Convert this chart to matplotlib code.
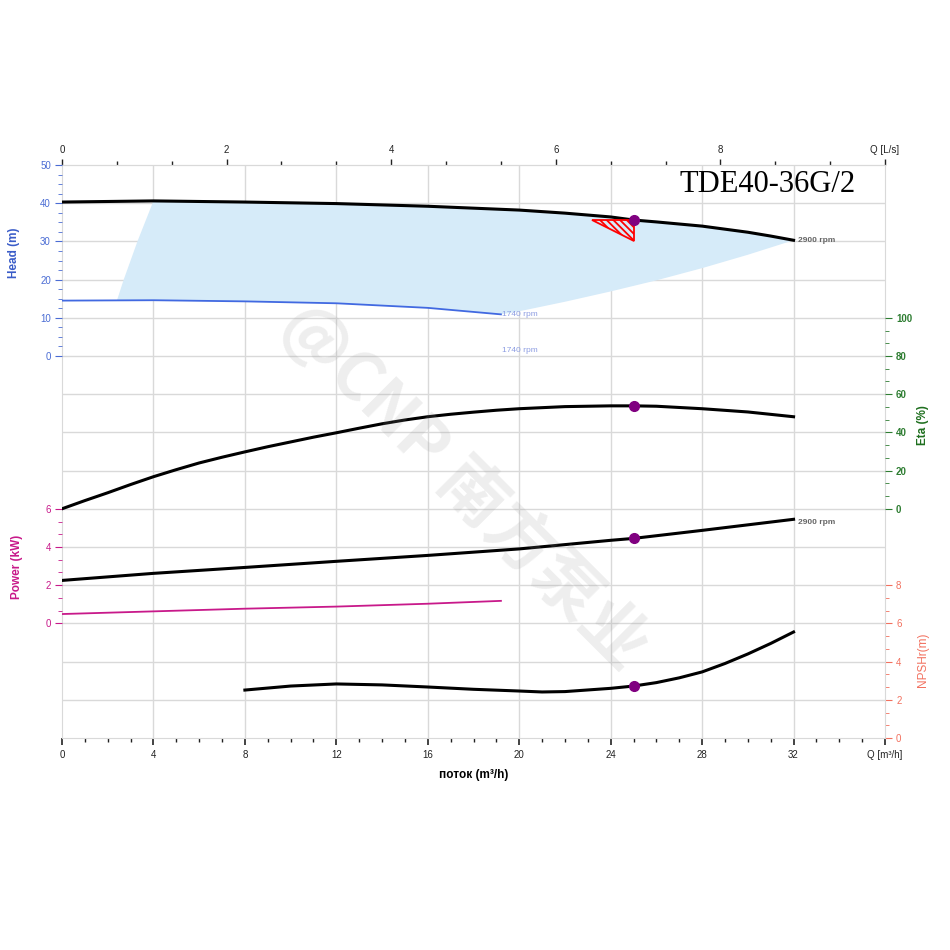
import numpy as np
import matplotlib
matplotlib.use("Agg")
import matplotlib.pyplot as plt
from matplotlib.patches import Polygon

plt.rcParams['font.family'] = ['Liberation Sans', 'DejaVu Sans']
plt.rcParams['hatch.linewidth'] = 1.3
plt.rcParams['hatch.color'] = 'red'

# ------------------------------------------------------------
# Values (Q in m3/h)
# ------------------------------------------------------------
q_head = [0, 4, 8, 12, 16, 20, 22, 24, 25, 26, 28, 29, 30, 31, 32]
head_2900 = [40.3, 40.6, 40.3, 39.9, 39.2, 38.2, 37.4, 36.4, 35.6, 35.1,
             34.0, 33.2, 32.4, 31.4, 30.3]

q_head_1740 = [0, 4, 8, 12, 16, 19.2]
head_1740 = [14.5, 14.6, 14.3, 13.8, 12.6, 10.9]

# borders of the shaded operating range
area_left_q = [2.4, 2.7, 3.3, 4.0]
area_left_h = [14.5, 20.0, 30.0, 40.6]
area_right_q = [32, 30, 28, 26, 24, 22, 20, 19.2]
area_right_h = [30.3, 26.5, 23.0, 19.8, 16.9, 14.2, 11.7, 10.9]

q_eta = [0, 1, 2, 3, 4, 5, 6, 7, 8, 9, 10, 11, 12, 13, 14, 15, 16, 17, 18,
         19, 20, 22, 24, 25, 26, 28, 30, 32]
eta_2900 = [0, 4.3, 8.4, 12.7, 16.8, 20.5, 24.0, 27.0, 29.8, 32.5, 35.0,
            37.5, 39.8, 42.2, 44.5, 46.5, 48.2, 49.5, 50.6, 51.6, 52.4,
            53.5, 53.9, 53.9, 53.7, 52.4, 50.7, 48.2]

q_pow = [0, 4, 8, 12, 16, 20, 24, 25, 28, 32]
power_2900 = [2.25, 2.62, 2.93, 3.25, 3.56, 3.90, 4.35, 4.45, 4.87, 5.45]
q_pow_1740 = [0, 4, 8, 12, 16, 19.2]
power_1740 = [0.49, 0.63, 0.77, 0.88, 1.03, 1.18]

q_npsh = [8, 10, 12, 14, 16, 18, 20, 21, 22, 24, 25, 26, 27, 28, 29, 30, 31, 32]
npsh = [2.51, 2.72, 2.83, 2.78, 2.67, 2.55, 2.46, 2.41, 2.43, 2.60, 2.72,
        2.90, 3.15, 3.46, 3.90, 4.40, 4.95, 5.55]

# duty point
q_duty = 25
head_duty = 35.6
eta_duty = 53.9
power_duty = 4.45
npsh_duty = 2.72

# tolerance triangle at the duty point
tri_q = [23.2, 25.0, 25.0]
tri_h = [35.6, 35.6, 30.1]

q_ticks = [0, 4, 8, 12, 16, 20, 24, 28, 32, 36]
q_ticklabels = ['0', '4', '8', '12', '16', '20', '24', '28', '32', 'Q [m³/h]']
ls_ticks = [0, 2, 4, 6, 8, 10]
ls_ticklabels = ['0', '2', '4', '6', '8', 'Q [L/s]']

HEAD_C = '#4a6cd4'
POW_C = '#c8198a'
ETA_C = '#2e7d32'
NPSH_C = '#f2705e'
GRID_C = '#d9d9d9'
DUTY_C = '#800080'

# ------------------------------------------------------------
# Figure and axes
# ------------------------------------------------------------
fig = plt.figure(figsize=(9.5, 9.5), dpi=100)
ax = fig.add_axes([62 / 950, 1 - 738 / 950, (885 - 62) / 950, (738 - 165) / 950])
ax.set_xlim(0, 36)
ax.set_ylim(0, 30)          # NPSH scale

ax_head = ax.twinx()
ax_head.set_ylim(-100, 50)
ax_pow = ax.twinx()
ax_pow.set_ylim(-6, 24)
ax_eta = ax.twinx()
ax_eta.set_ylim(-120, 180)

for a in (ax_head, ax_pow, ax_eta):
    a.patch.set_visible(False)
    for s in a.spines.values():
        s.set_visible(False)
for s in ax.spines.values():
    s.set_color(GRID_C)

# grid
for q in range(4, 36, 4):
    ax.axvline(q, color=GRID_C, lw=1, zorder=0)
for y in range(2, 30, 2):
    ax.axhline(y, color=GRID_C, lw=1, zorder=0)

# bottom axis
ax.set_xticks(q_ticks, labels=q_ticklabels)
ax.set_xticks(np.arange(0, 37, 1), minor=True)
ax.tick_params(axis='x', which='both', colors='#222222', labelsize=7,
               direction='out')
ax.tick_params(axis='x', which='major', length=5, width=1.2, pad=4)
ax.tick_params(axis='x', which='minor', length=3, width=1)
ax.set_xlabel('поток (m³/h)', fontsize=8.5, fontweight='bold', labelpad=6)

# top axis in L/s
secax = ax.secondary_xaxis('top', functions=(lambda q: q / 3.6, lambda l: l * 3.6))
secax.set_xticks(ls_ticks, labels=ls_ticklabels)
secax.set_xticks(np.arange(0, 10.01, 2 / 3), minor=True)
secax.tick_params(axis='x', which='both', colors='#222222', labelsize=7,
                  direction='out')
secax.tick_params(axis='x', which='major', length=4, width=1, pad=3)
secax.tick_params(axis='x', which='minor', length=3, width=1)
secax.spines['top'].set_color(GRID_C)

# NPSH (right, main axes)
ax.yaxis.set_ticks_position('right')
ax.set_yticks([0, 2, 4, 6, 8])
ax.set_yticks(np.arange(0, 8.01, 2 / 3), minor=True)
ax.tick_params(axis='y', which='both', colors=NPSH_C, labelsize=7, direction='out')
ax.tick_params(axis='y', which='major', length=5, pad=3)
ax.tick_params(axis='y', which='minor', length=3)

# head (left)
ax_head.yaxis.set_ticks_position('left')
ax_head.set_yticks([0, 10, 20, 30, 40, 50])
ax_head.set_yticks(np.arange(0, 50.1, 2.5), minor=True)
ax_head.tick_params(axis='y', which='both', colors=HEAD_C, labelsize=7, direction='out')
ax_head.tick_params(axis='y', which='major', length=5, pad=3)
ax_head.tick_params(axis='y', which='minor', length=3)

# power (left)
ax_pow.yaxis.set_ticks_position('left')
ax_pow.set_yticks([0, 2, 4, 6])
ax_pow.set_yticks(np.arange(0, 6.01, 2 / 3), minor=True)
ax_pow.tick_params(axis='y', which='both', colors=POW_C, labelsize=7, direction='out')
ax_pow.tick_params(axis='y', which='major', length=5, pad=3)
ax_pow.tick_params(axis='y', which='minor', length=3)

# efficiency (right)
ax_eta.yaxis.set_ticks_position('right')
ax_eta.set_yticks([0, 20, 40, 60, 80, 100])
ax_eta.set_yticks(np.arange(0, 100.1, 20 / 3), minor=True)
ax_eta.tick_params(axis='y', which='both', colors=ETA_C, labelsize=7, direction='out')
ax_eta.tick_params(axis='y', which='major', length=5, pad=3)
ax_eta.tick_params(axis='y', which='minor', length=3)
for lab in ax_eta.get_yticklabels():
    lab.set_fontweight('bold')

# ------------------------------------------------------------
# Curves
# ------------------------------------------------------------
top_q = [q for q in q_head if q >= area_left_q[-1]]
top_h = [h for q, h in zip(q_head, head_2900) if q >= area_left_q[-1]]
bot_q = [q for q in q_head_1740 if q > area_left_q[0]][::-1]
bot_h = [h for q, h in zip(q_head_1740, head_1740) if q > area_left_q[0]][::-1]
poly_q = area_left_q + top_q + area_right_q + bot_q
poly_h = area_left_h + top_h + area_right_h + bot_h
ax_head.add_patch(Polygon(list(zip(poly_q, poly_h)), closed=True,
                          facecolor='#d6ebf9', edgecolor='none', zorder=1))

ax_head.plot(q_head, head_2900, color='black', lw=2.2, zorder=3)
ax_head.plot(q_head_1740, head_1740, color='#4169e1', lw=1.3, zorder=3)
ax_head.add_patch(Polygon(list(zip(tri_q, tri_h)), closed=True, facecolor='none',
                          edgecolor='red', lw=1.3, hatch='\\' * 5, zorder=4))
ax_head.plot(q_duty, head_duty, 'o', color=DUTY_C, ms=7, zorder=5)

ax_eta.plot(q_eta, eta_2900, color='black', lw=2.2, zorder=3)
ax_eta.plot(q_duty, eta_duty, 'o', color=DUTY_C, ms=7, zorder=5)

ax_pow.plot(q_pow, power_2900, color='black', lw=2.2, zorder=3)
ax_pow.plot(q_pow_1740, power_1740, color='#c8198a', lw=1.3, zorder=3)
ax_pow.plot(q_duty, power_duty, 'o', color=DUTY_C, ms=7, zorder=5)

ax.plot(q_npsh, npsh, color='black', lw=2.2, zorder=3)
ax.plot(q_duty, npsh_duty, 'o', color=DUTY_C, ms=7, zorder=5)

# speed labels
ax_head.annotate('2900 rpm', (q_head[-1], head_2900[-1]), xytext=(3, 0),
                 textcoords='offset points', fontsize=6, fontweight='bold',
                 color='#666666', va='center')
ax_pow.annotate('2900 rpm', (q_pow[-1], power_2900[-1]), xytext=(3, -2),
                textcoords='offset points', fontsize=6, fontweight='bold',
                color='#666666', va='center')
ax_head.annotate('1740 rpm', (q_head_1740[-1], head_1740[-1]), xytext=(1, 0),
                 textcoords='offset points', fontsize=6, color='#8d9de2',
                 va='center')
ax_head.annotate('1740 rpm', (q_head_1740[-1], 0), xytext=(1, 4),
                 textcoords='offset points', fontsize=6, color='#8d9de2',
                 va='center')

# ------------------------------------------------------------
# Axis titles, model name, watermark
# ------------------------------------------------------------
fig.text(14 / 950, 1 - 253 / 950, 'Head (m)', rotation=90, color='#3a5cc8',
         fontsize=8.5, fontweight='bold', ha='center', va='center')
fig.text(17 / 950, 1 - 567 / 950, 'Power (kW)', rotation=90, color=POW_C,
         fontsize=8.5, fontweight='bold', ha='center', va='center')
fig.text(923 / 950, 1 - 425 / 950, 'Eta (%)', rotation=90, color='#1f6f1f',
         fontsize=8.5, fontweight='bold', ha='center', va='center')
fig.text(923 / 950, 1 - 660 / 950, 'NPSHr(m)', rotation=90, color=NPSH_C,
         fontsize=8.5, ha='center', va='center')

fig.text(768 / 950, 1 - 185 / 950, 'TDE40-36G/2', family='Liberation Serif',
         fontsize=22, ha='center', va='center', color='black')

fig.text(465 / 950, 1 - 485 / 950, '@CNP 南方泵业', rotation=-45,
         rotation_mode='anchor', ha='center', va='center', fontsize=48,
         fontweight='bold', color='#9a9a9a', alpha=0.17,
         family=['Noto Sans CJK SC', 'DejaVu Sans'], zorder=10)

fig.savefig('out.png', dpi=100, facecolor='white')
